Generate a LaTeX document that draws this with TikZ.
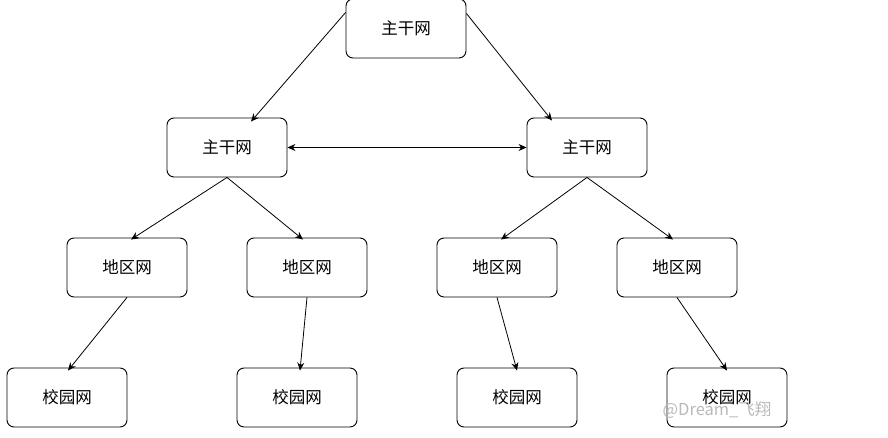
\documentclass[tikz,border=0pt]{standalone}
\usepackage{fontspec}
\newfontfamily\cjk{Noto Sans CJK SC}
\usetikzlibrary{arrows.meta}
\begin{document}
\begin{tikzpicture}[x=1pt,y=-1pt,
  box/.style={draw=black,line width=0.9pt,rounded corners=7pt,minimum width=120pt,minimum height=59pt,inner sep=0pt,font=\cjk\fontsize{16.5}{18}\selectfont},
  arr/.style={draw=black,line width=0.8pt,-{Stealth[length=8pt,width=7pt]}},
  darr/.style={draw=black,line width=0.8pt,{Stealth[length=8pt,width=7pt]}-{Stealth[length=8pt,width=7pt]}}]
\useasboundingbox (0,0) rectangle (888,438);
\node[box] (t) at (406,28.5) {主干网};
\node[box] (a) at (227,147.5) {主干网};
\node[box] (b) at (587,147.5) {主干网};
\node[box] (c1) at (127,267.5) {地区网};
\node[box] (c2) at (307,267.5) {地区网};
\node[box] (c3) at (497,267.5) {地区网};
\node[box] (c4) at (677,267.5) {地区网};
\node[box] (d1) at (67,397.5) {校园网};
\node[box] (d2) at (297,397.5) {校园网};
\node[box] (d3) at (517,397.5) {校园网};
\node[box] (d4) at (727,397.5) {校园网};
\draw[arr] ([yshift=16]t.west) -- ([xshift=24,yshift=-4]a.north);
\draw[arr] ([yshift=15]t.east) -- ([xshift=-35,yshift=-3]b.north);
\draw[darr] (a.east) -- (b.west);
\draw[arr] (a.south) -- ([xshift=4,yshift=-2]c1.north);
\draw[arr] (a.south) -- ([xshift=-4,yshift=-2]c2.north);
\draw[arr] (b.south) -- ([xshift=4,yshift=-2]c3.north);
\draw[arr] (b.south) -- ([xshift=-4,yshift=-2]c4.north);
\draw[arr] (c1.south) -- ([xshift=1,yshift=-3]d1.north);
\draw[arr] (c2.south) -- ([xshift=3,yshift=-3]d2.north);
\draw[arr] (c3.south) -- ([xshift=0,yshift=-3]d3.north);
\draw[arr] (c4.south) -- ([xshift=0,yshift=-3]d4.north);
\node[text=gray!55,font=\cjk\fontsize{16.5}{18}\selectfont,inner sep=0pt] (wm) at (717,410) {@Dream\_飞翔};
\end{tikzpicture}
\end{document}
